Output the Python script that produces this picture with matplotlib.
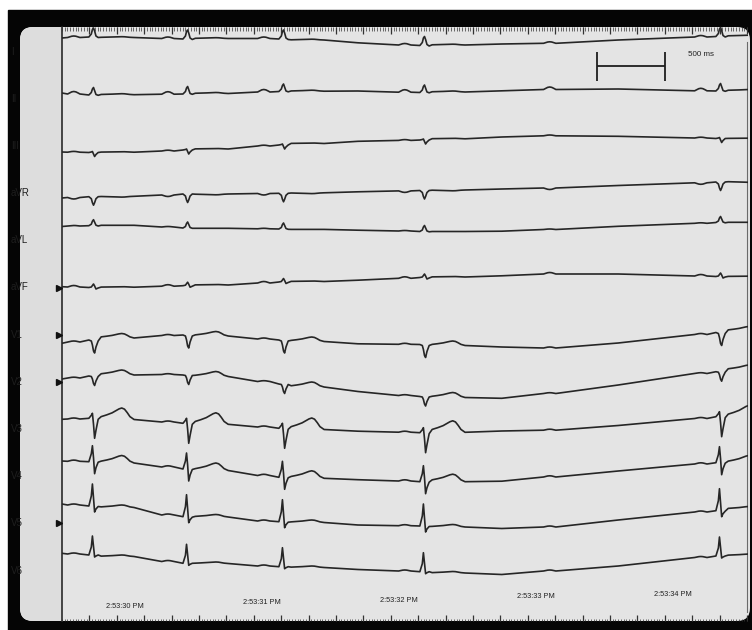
import matplotlib.pyplot as plt
import numpy as np
from matplotlib.patches import FancyBboxPatch, Rectangle

# page size in pixels (figure is drawn at 100 dpi)
W, H = 752, 630

LEADS = ["I", "II", "III", "aVR", "aVL", "aVF", "V1", "V2", "V3", "V4", "V5", "V6"]
MARKED = ["aVF", "V1", "V2", "V5"]
TIME_LABELS = ["2:53:30 PM", "2:53:31 PM", "2:53:32 PM", "2:53:33 PM", "2:53:34 PM"]

# seconds from 2:53:30 PM
BEATS = [-0.234, 0.453, 1.153, 2.182, 4.343]
P_WAVES = [-0.374, 0.313, 1.013, 2.042, 3.100, 4.203]
T_WAVES = [-0.024, 0.663, 1.363, 2.392, 4.553]
GRID_T = [-0.460, -0.374, -0.234, -0.024, 0.313, 0.453, 0.663, 1.013, 1.153, 1.363,
          1.700, 2.042, 2.182, 2.392, 2.750, 3.100, 3.600, 4.203, 4.343, 4.553]

LEVELS = {
    "I":   [38, 37.5, 37, 37.5, 38.5, 39, 38.5, 38.5, 39, 40, 42.8, 45, 45.5, 45, 44, 43.3, 40, 37, 36.5, 36],
    "II":  [93, 94, 95, 94.7, 94.2, 94, 93.5, 92, 91.5, 91.2, 91, 92.2, 92.5, 92, 90.8, 89.5, 89, 90.8, 91, 90.5],
    "III": [152, 152.2, 152.5, 152.2, 151, 150, 149, 146, 145, 143.5, 141.3, 140.4, 140, 138.8, 137, 135.8, 136.3, 138, 138.5, 138.5],
    "aVR": [198, 197.5, 196.7, 196.3, 195, 194, 194, 193.5, 193.3, 192.8, 191.8, 190.9, 190.5, 190, 189, 188, 185.5, 182.8, 182, 181.5],
    "aVL": [226.5, 226, 225.7, 225.3, 227, 228, 228.3, 228.8, 229, 229.4, 230.2, 231, 231.5, 231.5, 231.2, 229.5, 226.3, 223.3, 222.5, 222.3],
    "aVF": [286.7, 287, 287.5, 287.2, 286.2, 285.7, 285, 283, 282, 281.5, 280.2, 278.3, 277.5, 277, 275.8, 274, 274, 276, 276.5, 276.5],
    "V1":  [343.3, 342, 340, 338, 335.5, 335, 336, 339, 340, 341.5, 343.8, 344.3, 344.5, 345.5, 347, 348, 343, 334.5, 332.5, 331],
    "V2":  [379, 378, 376, 375, 374.5, 375, 376.5, 381.5, 384, 387, 391.5, 395.5, 396.5, 397.5, 398.3, 393.5, 385, 373.5, 371.7, 370],
    "V3":  [419.3, 419, 418.3, 419.5, 422, 423.3, 424.3, 427, 428.3, 429.5, 431.2, 432.2, 432.7, 432.3, 431, 430.2, 425.5, 418.5, 416.7, 417],
    "V4":  [461, 461.3, 461.7, 463, 467, 469, 470.5, 475.5, 477.3, 478.3, 479.7, 481, 481.7, 481.7, 481.2, 477, 471, 464, 462.7, 463],
    "V5":  [504, 505, 506, 507.5, 515, 516.7, 517, 521, 521.7, 522.5, 525, 525.7, 526, 527, 528.5, 527, 520, 512, 510.7, 509],
    "V6":  [553.3, 554, 555, 556.5, 561.5, 563.3, 563.5, 566, 566.7, 567.5, 569.5, 571, 571.7, 573, 574.5, 571, 566, 557.5, 556, 555.5],
}

# QRS complex per lead, deflection in pixels (up = positive) at QRS_DT seconds around the beat
QRS_DT = [-0.030, -0.012, -0.004, 0.004, 0.012, 0.022, 0.038]
QRS = {
    "I":   [0, 3, 7.5, 9, 6, 1, -0.5],
    "II":  [0, 2.5, 6, 7.5, 4.5, 0.5, -0.3],
    "III": [0, 0.5, 1, -1.5, -4, -2, 0],
    "aVR": [0, -2, -6, -8.5, -6, -2, 0],
    "aVL": [0, 1.5, 4.5, 6, 3.5, 0.5, -0.3],
    "aVF": [0, 0.5, 2, 3.5, 1.5, -1.5, -0.5],
    "V1":  [0, -1, -5, -11, -13, -7, -1],
    "V2":  [0, -0.5, -3, -7.5, -9.5, -5, -0.5],
    "V3":  [0, 3, 5, -6, -20, -12, -1],
    "V4":  [0, 8, 16, 4, -12, -6, -0.5],
    "V5":  [0, 10, 22, 8, -6, -3, -0.5],
    "V6":  [0, 8, 19, 8, -2, -1, 0],
}
P_DT = [-0.045, -0.03, -0.015, 0.0, 0.015, 0.03, 0.045]
P_SHAPE = [0, 0.45, 0.85, 1, 0.85, 0.45, 0]
P_AMP = {"I": 1.5, "II": 2.5, "III": 0.8, "aVR": -1.5, "aVL": 0.5, "aVF": 1.5,
         "V1": 1, "V2": 0.8, "V3": 1, "V4": 1.2, "V5": 1, "V6": 1}
T_DT = [-0.15, -0.11, -0.07, -0.04, -0.02, 0.0, 0.02, 0.04, 0.06, 0.09]
T_SHAPE = [0.25, 0.4, 0.58, 0.78, 0.92, 1.0, 0.9, 0.6, 0.25, 0.0]
T_AMP = {"I": 0.8, "II": 1, "III": 0.5, "aVR": -0.8, "aVL": 0, "aVF": 0.5,
         "V1": 4.5, "V2": 5, "V3": 11.5, "V4": 7.5, "V5": 2.5, "V6": 1.5}


def trace(lead):
    ts, ys = [], []
    for t, lv in zip(GRID_T, LEVELS[lead]):
        if np.isclose(BEATS, t).any():
            ts += [t + d for d in QRS_DT]
            ys += [lv - a for a in QRS[lead]]
        elif np.isclose(P_WAVES, t).any():
            ts += [t + d for d in P_DT]
            ys += [lv - P_AMP[lead] * s for s in P_SHAPE]
        elif np.isclose(T_WAVES, t).any():
            ts += [t + d for d in T_DT]
            ys += [lv - T_AMP[lead] * s for s in T_SHAPE]
        else:
            ts.append(t)
            ys.append(lv)
    order = np.argsort(ts)
    return np.array(ts)[order], np.array(ys)[order]


plt.rcParams['font.family'] = ['Liberation Sans', 'DejaVu Sans']
fig = plt.figure(figsize=(W / 100, H / 100), dpi=100)
fig.patch.set_facecolor("white")

# page: photo border, paper, margin
page = fig.add_axes([0, 0, 1, 1])
page.set_xlim(0, W)
page.set_ylim(H, 0)
page.axis("off")
page.add_patch(Rectangle((8, 10), W, H, color="#050505", zorder=0))
paper = FancyBboxPatch((20, 27), 730, 594, boxstyle="round,pad=0,rounding_size=13",
                       facecolor="#e4e4e4", edgecolor="none", zorder=1)
page.add_patch(paper)
strip = Rectangle((20, 27), 42, 594, facecolor="#dddddd", edgecolor="none", zorder=1)
page.add_patch(strip)
strip.set_clip_path(paper)
page.plot([62, 62], [27, 621], color="#2a2a2a", lw=1.2, zorder=3)
page.plot([747, 747], [42, 612], color="#6a6a6a", lw=0.8, zorder=3)

# lead names are printed partly off the paper edge
for i, name in enumerate(LEADS):
    y = 51.6 + 47.18 * i
    lab = page.text(11, y, name, fontsize=7, color="#1e1e1e", ha="left", va="center",
                    zorder=3, clip_on=True)
    lab.set_clip_path(paper)
    if name in MARKED:
        page.plot(59, y, marker=">", ms=4.5, color="#111111", zorder=3)

page.text(688, 55, "500 ms", fontsize=5.8, color="#222222", ha="left", va="center", zorder=3)

# strip chart: time in seconds from 2:53:30 PM, rows in pixels
ax = fig.add_axes([62 / W, 0, 686 / W, 1])
ax.set_xlim(-0.46, -0.46 + 686 / 137)
ax.set_ylim(H, 0)
ax.axis("off")
ax.patch.set_alpha(0)

for name in LEADS:
    t, y = trace(name)
    ax.plot(t, y, color="#262626", lw=1.2, solid_joinstyle="round")

# rulers along top and bottom edge (small ticks 20 ms, large ticks 200 ms)
minor = np.arange(-0.46, 4.55, 0.02)
major = np.arange(-0.26, 4.55, 0.2)
ax.vlines(minor, 27, 30.5, color="#333333", lw=0.5)
ax.vlines(major, 27, 33.5, color="#333333", lw=0.9)
ax.vlines(minor, 621, 618.5, color="#333333", lw=0.5)
ax.vlines(major, 621, 615, color="#333333", lw=0.9)

# 500 ms calibration bar
ax.hlines(66, 3.445, 3.945, color="#1e1e1e", lw=1.3)
ax.vlines([3.445, 3.945], 51.5, 81, color="#1e1e1e", lw=1.3)

for i, lab in enumerate(TIME_LABELS):
    ax.text(i, 606 - 3 * i, lab, fontsize=5.3, color="#222222", ha="center", va="center")

fig.savefig("out.png", dpi=100, facecolor=fig.get_facecolor())
